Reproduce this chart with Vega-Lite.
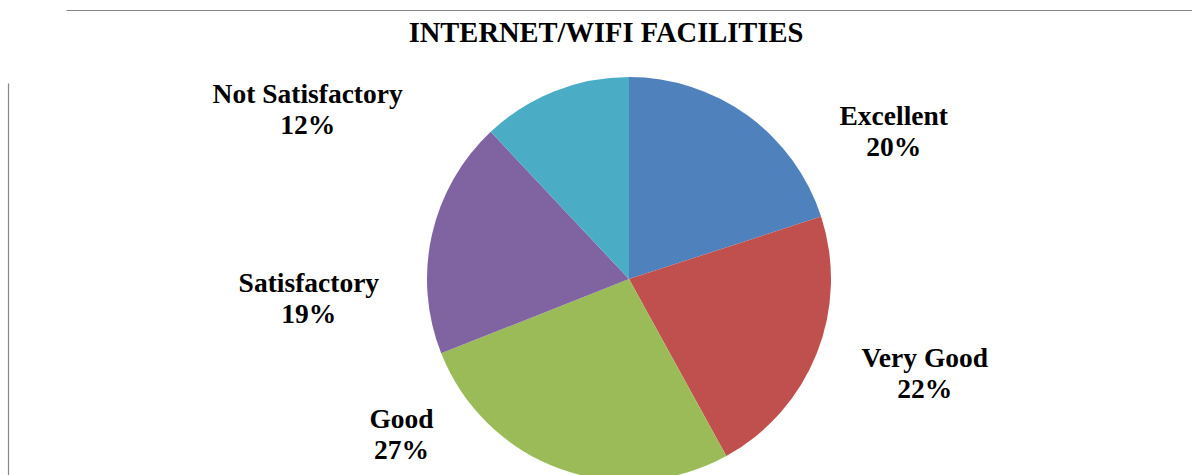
{
  "$schema": "https://vega.github.io/schema/vega-lite/v6.json",
  "width": 1126,
  "height": 392,
  "autosize": {"type": "none"},
  "padding": {"left": 66, "top": 83, "right": 0, "bottom": 0},
  "background": "white",
  "view": {"stroke": null},
  "title": {
    "text": "INTERNET/WIFI FACILITIES",
    "font": "Liberation Serif",
    "fontSize": 28.5,
    "fontWeight": "bold",
    "color": "black",
    "anchor": "middle",
    "frame": "group",
    "dx": -23,
    "dy": 28,
    "offset": -32,
    "baseline": "alphabetic"
  },
  "data": {
    "values": [
      {"category": "Excellent", "value": 20, "rank": 1},
      {"category": "Very Good", "value": 22, "rank": 2},
      {"category": "Good", "value": 27, "rank": 3},
      {"category": "Satisfactory", "value": 19, "rank": 4},
      {"category": "Not Satisfactory", "value": 12, "rank": 5}
    ]
  },
  "transform": [
    {"calculate": "datum.category + '\\n' + datum.value + '%'", "as": "label"}
  ],
  "layer": [
    {
      "mark": {"type": "point", "opacity": 0},
      "encoding": {
        "x": {"field": "value", "type": "quantitative", "axis": {"orient": "top", "offset": 73, "labels": false, "ticks": false, "grid": false, "title": null, "domainColor": "#868686", "domainWidth": 1.2}},
        "y": {"field": "rank", "type": "quantitative", "axis": {"orient": "left", "offset": 58, "labels": false, "ticks": false, "grid": false, "title": null, "domainColor": "#868686", "domainWidth": 1.2}}
      }
    },
    {
      "mark": {"type": "arc", "radius": 202},
      "encoding": {
        "theta": {"field": "value", "type": "quantitative", "stack": true},
        "order": {"field": "rank", "type": "quantitative"},
        "color": {
          "field": "category",
          "type": "nominal",
          "scale": {
            "domain": ["Excellent", "Very Good", "Good", "Satisfactory", "Not Satisfactory"],
            "range": ["#4F81BD", "#C0504D", "#9BBB59", "#8064A2", "#4BACC6"]
          },
          "legend": null
        }
      }
    },
    {
      "mark": {"type": "text", "radius": 202, "dx": 146, "dy": 9, "font": "Liberation Serif", "fontSize": 27.5, "fontWeight": "bold", "color": "black", "align": "center", "baseline": "alphabetic", "lineBreak": "\n", "lineHeight": 31},
      "encoding": {
        "theta": {"field": "value", "type": "quantitative", "stack": true},
        "order": {"field": "rank", "type": "quantitative"},
        "text": {"condition": {"test": "datum.category === 'Excellent'", "field": "label"}, "value": ""}
      }
    },
    {
      "mark": {"type": "text", "radius": 202, "dx": 108, "dy": 14, "font": "Liberation Serif", "fontSize": 27.5, "fontWeight": "bold", "color": "black", "align": "center", "baseline": "alphabetic", "lineBreak": "\n", "lineHeight": 31},
      "encoding": {
        "theta": {"field": "value", "type": "quantitative", "stack": true},
        "order": {"field": "rank", "type": "quantitative"},
        "text": {"condition": {"test": "datum.category === 'Very Good'", "field": "label"}, "value": ""}
      }
    },
    {
      "mark": {"type": "text", "radius": 202, "dx": -159, "dy": -41, "font": "Liberation Serif", "fontSize": 27.5, "fontWeight": "bold", "color": "black", "align": "center", "baseline": "alphabetic", "lineBreak": "\n", "lineHeight": 31},
      "encoding": {
        "theta": {"field": "value", "type": "quantitative", "stack": true},
        "order": {"field": "rank", "type": "quantitative"},
        "text": {"condition": {"test": "datum.category === 'Good'", "field": "label"}, "value": ""}
      }
    },
    {
      "mark": {"type": "text", "radius": 202, "dx": -123, "dy": 57, "font": "Liberation Serif", "fontSize": 27.5, "fontWeight": "bold", "color": "black", "align": "center", "baseline": "alphabetic", "lineBreak": "\n", "lineHeight": 31},
      "encoding": {
        "theta": {"field": "value", "type": "quantitative", "stack": true},
        "order": {"field": "rank", "type": "quantitative"},
        "text": {"condition": {"test": "datum.category === 'Satisfactory'", "field": "label"}, "value": ""}
      }
    },
    {
      "mark": {"type": "text", "radius": 202, "dx": -247, "dy": 12, "font": "Liberation Serif", "fontSize": 27.5, "fontWeight": "bold", "color": "black", "align": "center", "baseline": "alphabetic", "lineBreak": "\n", "lineHeight": 31},
      "encoding": {
        "theta": {"field": "value", "type": "quantitative", "stack": true},
        "order": {"field": "rank", "type": "quantitative"},
        "text": {"condition": {"test": "datum.category === 'Not Satisfactory'", "field": "label"}, "value": ""}
      }
    }
  ]
}
